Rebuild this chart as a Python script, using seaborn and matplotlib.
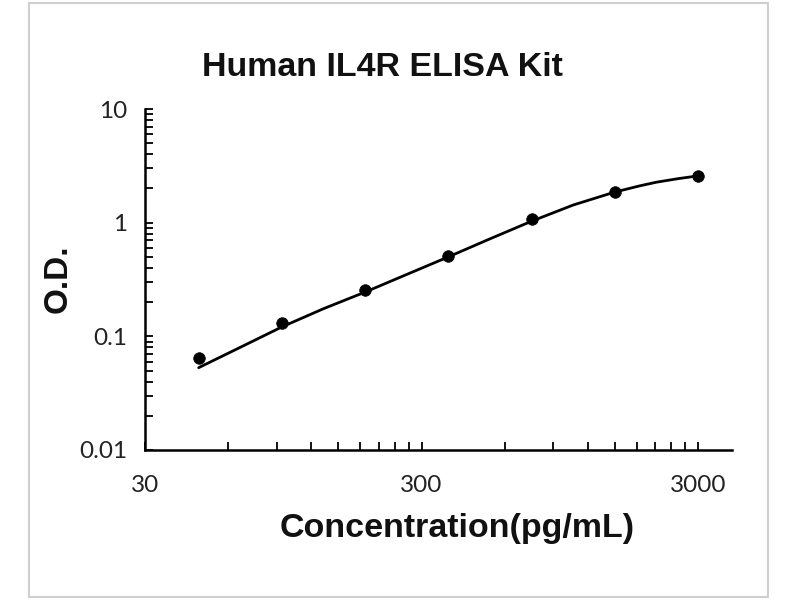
import numpy as np
import pandas as pd
import matplotlib
matplotlib.use("Agg")
import matplotlib.pyplot as plt
import seaborn as sns
from matplotlib.ticker import FixedLocator, LogLocator, NullFormatter
from matplotlib.patches import Rectangle

# standard points (concentration pg/mL, O.D.)
conc = [46.875, 93.75, 187.5, 375, 750, 1500, 3000]
od = [0.065, 0.130, 0.254, 0.507, 1.074, 1.857, 2.57]

# fitted curve
curve_conc = [46.9, 66.3, 93.75, 132.6, 187.5, 265, 375, 530, 750, 1061, 1500,
              1849, 2121, 2544, 3000]
curve_od = [0.053, 0.080, 0.121, 0.175, 0.245, 0.35, 0.50, 0.72, 1.03, 1.43, 1.86,
            2.11, 2.27, 2.44, 2.58]

x_ticks = [30, 300, 3000]
x_ticklabels = ['30', '300', '3000']
y_ticks = [0.01, 0.1, 1, 10]
y_ticklabels = ['0.01', '0.1', '1', '10']

pts = pd.DataFrame({'conc': conc, 'od': od})
fit = pd.DataFrame({'conc': curve_conc, 'od': curve_od})

sns.set_style("ticks")
plt.rcParams['font.family'] = ['Liberation Sans', 'DejaVu Sans']

fig = plt.figure(figsize=(8, 6), dpi=100)
ax = fig.add_axes([145 / 800, 1 - 450 / 600, (732 - 145) / 800, (450 - 109) / 600])

sns.lineplot(data=fit, x='conc', y='od', ax=ax, color='black', linewidth=2.0, sort=False)
sns.scatterplot(data=pts, x='conc', y='od', ax=ax, color='black', s=70,
                edgecolor='black', linewidth=0.5, zorder=3)

ax.set_xscale('log')
ax.set_yscale('log')
ax.set_xlim(30, 3980)
ax.set_ylim(0.01, 10)

ax.xaxis.set_major_locator(FixedLocator(x_ticks))
ax.set_xticklabels(x_ticklabels)
minor_x = [m * d for d in (30, 300) for m in range(2, 10)]
ax.xaxis.set_minor_locator(FixedLocator(minor_x))
ax.xaxis.set_minor_formatter(NullFormatter())

ax.yaxis.set_major_locator(FixedLocator(y_ticks))
ax.set_yticklabels(y_ticklabels)
ax.yaxis.set_minor_locator(LogLocator(base=10, subs=range(2, 10)))
ax.yaxis.set_minor_formatter(NullFormatter())

for lab in ax.get_xticklabels() + ax.get_yticklabels():
    lab.set_family(['Lato', 'DejaVu Sans'])
    lab.set_fontsize(17.5)
    lab.set_color('#222222')

ax.tick_params(axis='both', which='both', direction='in', length=5.5, width=1.3, color='black')
ax.tick_params(axis='x', which='major', pad=18)
ax.tick_params(axis='y', which='major', pad=13)

sns.despine(ax=ax)
for s in ('left', 'bottom'):
    ax.spines[s].set_linewidth(1.8)
    ax.spines[s].set_color('black')

ax.set_xlabel('')
ax.set_ylabel('')
fig.text(0.478, 0.887, 'Human IL4R ELISA Kit', ha='center', va='center',
         fontsize=24.5, fontweight='bold', color='#111111')
fig.text(0.572, 0.12, 'Concentration(pg/mL)', ha='center', va='center',
         fontsize=24.5, fontweight='bold', color='#111111')
fig.text(0.0725, 0.535, 'O.D.', ha='center', va='center', rotation=90,
         fontsize=24, fontweight='bold', color='#111111')

# light grey frame around the chart
fig.patches.append(Rectangle((29 / 800, 3 / 600), (768 - 29) / 800, (597 - 3) / 600,
                             transform=fig.transFigure, fill=False,
                             edgecolor='#cfcfcf', linewidth=1.5))

fig.savefig('out.png', dpi=100)
